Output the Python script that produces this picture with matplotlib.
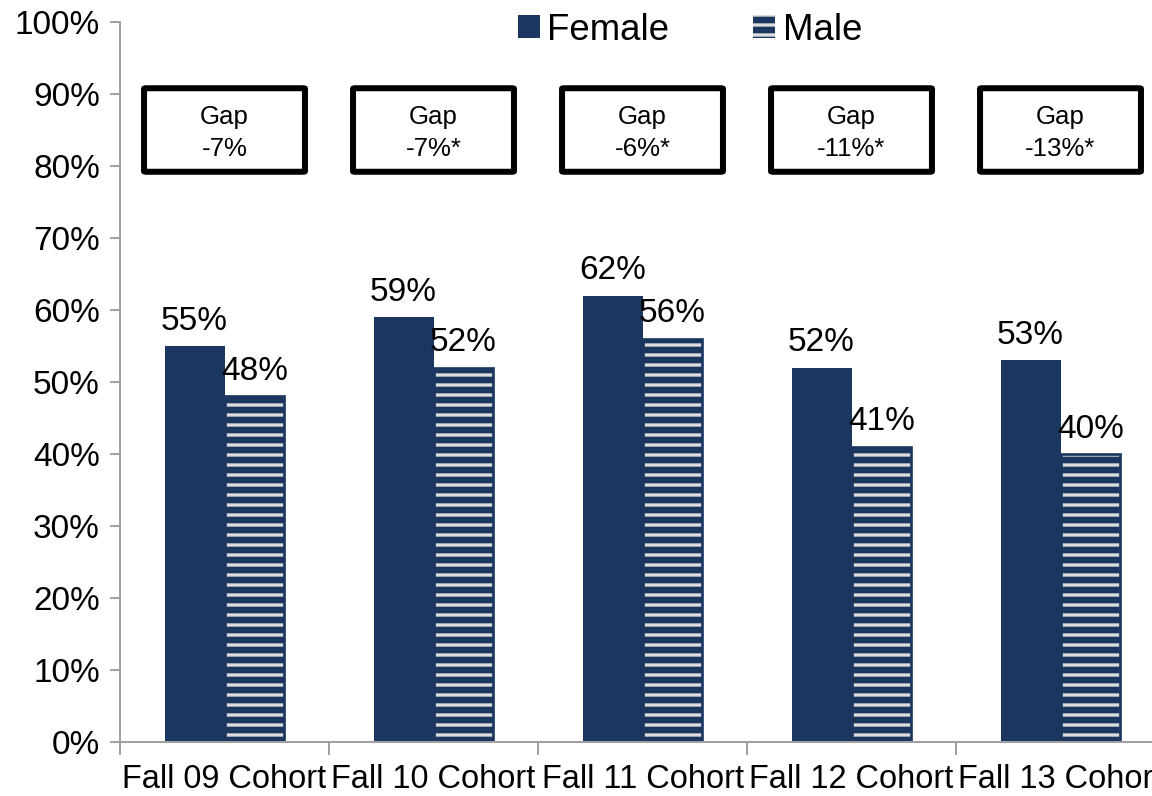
import matplotlib
matplotlib.use('Agg')
import matplotlib.pyplot as plt
from matplotlib.patches import FancyBboxPatch
import numpy as np

cohorts = ['Fall 09 Cohort', 'Fall 10 Cohort', 'Fall 11 Cohort', 'Fall 12 Cohort', 'Fall 13 Cohort']
female = [55, 59, 62, 52, 53]
male = [48, 52, 56, 41, 40]
gaps = ['-7%', '-7%*', '-6%*', '-11%*', '-13%*']

navy = '#1b365f'
plt.rcParams['font.family'] = ['Liberation Sans', 'DejaVu Sans']
plt.rcParams['hatch.linewidth'] = 2.0

fig = plt.figure(figsize=(9.6, 796 / 120), dpi=120)
ax = fig.add_axes([120 / 1152, 54 / 796, 1045 / 1152, 720 / 796])

x = np.arange(len(cohorts))
w = 0.287
ax.bar(x - w / 2, female, width=w, color=navy, label='Female')
ax.bar(x + w / 2, male, width=w, color=navy, edgecolor='#dcdcdc', linewidth=0,
       hatch='--', label='Male')
# dark outline over the striped bars so the stripes stop short of the edges
ax.bar(x + w / 2, male, width=w, facecolor='none', edgecolor=navy, linewidth=1.6)

for i in range(len(cohorts)):
    ax.text(x[i] - w / 2, female[i] + 1.3, f'{female[i]}%', ha='center', va='bottom', fontsize=20)
    ax.text(x[i] + w / 2, male[i] + 1.3, f'{male[i]}%', ha='center', va='bottom', fontsize=20)
    box = FancyBboxPatch((x[i] - 0.385, 79.2), 0.77, 11.6,
                         boxstyle='round,pad=0,rounding_size=0.01',
                         facecolor='white', edgecolor='black', linewidth=3.6,
                         mutation_aspect=10)
    ax.add_patch(box)
    ax.text(x[i], 84.6, f'Gap\n{gaps[i]}', ha='center', va='center', fontsize=15.5,
            linespacing=1.45)

ax.set_xlim(-0.5, len(cohorts) - 0.5)
ax.set_ylim(0, 100)
ax.set_yticks(range(0, 101, 10))
ax.set_yticklabels([f'{v}%' for v in range(0, 101, 10)], fontsize=20)
ax.set_xticks(x)
ax.set_xticklabels(cohorts, fontsize=19.5)
ax.set_xticks(np.arange(-0.5, len(cohorts), 1), minor=True)
ax.tick_params(axis='x', which='major', length=0, pad=13)
ax.tick_params(axis='x', which='minor', length=8, color='#a0a0a0', width=1.2)
ax.tick_params(axis='y', length=6, color='#a0a0a0', width=1.2, pad=6)

for s in ['top', 'right']:
    ax.spines[s].set_visible(False)
for s in ['left', 'bottom']:
    ax.spines[s].set_color('#a0a0a0')
    ax.spines[s].set_linewidth(1.2)

fig.legend(loc='center', bbox_to_anchor=(690 / 1152, 1 - 30 / 796), ncol=2,
           frameon=False, fontsize=22, handlelength=0.6, handleheight=0.6,
           handletextpad=0.2, columnspacing=2.3)

fig.savefig('out.png', dpi=120)
